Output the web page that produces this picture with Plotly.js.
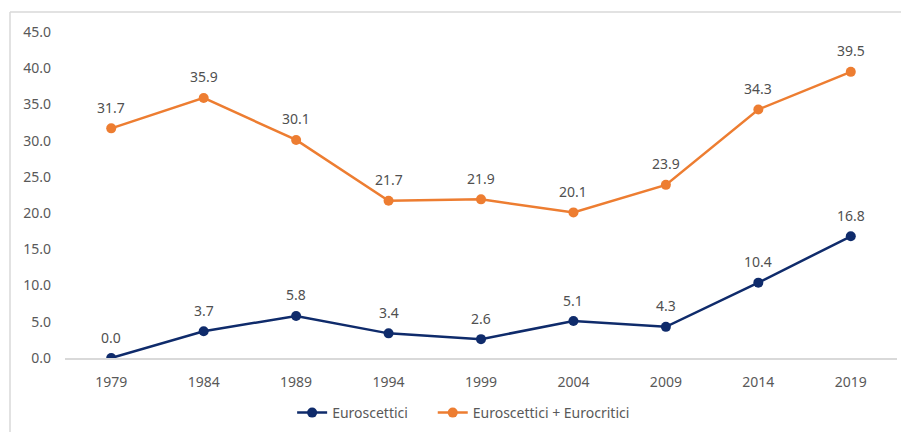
<!DOCTYPE html>
<html>
<head>
<meta charset="utf-8">
<script src="https://cdn.plot.ly/plotly-3.0.1.min.js"></script>
<style>
html,body{margin:0;padding:0;background:#fff;}
#chart{width:901px;height:432px;}
</style>
</head>
<body>
<div id="chart"></div>
<script>
var years = ["1979","1984","1989","1994","1999","2004","2009","2014","2019"];
var euroscettici = [0.0, 3.7, 5.8, 3.4, 2.6, 5.1, 4.3, 10.4, 16.8];
var euroscetticiEurocritici = [31.7, 35.9, 30.1, 21.7, 21.9, 20.1, 23.9, 34.3, 39.5];
var seriesNames = ["Euroscettici", "Euroscettici + Eurocritici"];
var yTicks = [0, 5, 10, 15, 20, 25, 30, 35, 40, 45];

var navy = "#0f2b6b";
var orange = "#ED7D31";
var gray = "#595959";
var fontFam = "Noto Sans";

var traces = [
  {x: years, y: euroscettici, name: seriesNames[0], type: "scatter", mode: "lines+markers",
   legend: "legend",
   line: {color: navy, width: 2.5}, marker: {color: navy, size: 10}},
  {x: years, y: euroscetticiEurocritici, name: seriesNames[1], type: "scatter", mode: "lines+markers",
   legend: "legend2",
   line: {color: orange, width: 2.5}, marker: {color: orange, size: 10}}
];

var annotations = [];
[euroscettici, euroscetticiEurocritici].forEach(function(s){
  s.forEach(function(v, i){
    annotations.push({x: i, y: v, xref: "x", yref: "y", text: v.toFixed(1),
      showarrow: false, yshift: 21, font: {family: fontFam, size: 14, color: "#505050"}});
  });
});

function legendCfg(x) {
  return {orientation: "h", xref: "paper", x: x, xanchor: "left",
          yref: "container", y: 0.044, yanchor: "middle",
          font: {family: fontFam, size: 14, color: gray}};
}

var layout = {
  width: 901, height: 432,
  margin: {l: 65, r: 4, t: 32, b: 74},
  paper_bgcolor: "#fff", plot_bgcolor: "#fff",
  font: {family: fontFam, size: 14, color: gray},
  showlegend: true,
  legend: legendCfg(0.273),
  legend2: legendCfg(0.442),
  xaxis: {type: "category", range: [-0.5, 8.5], showgrid: false, zeroline: false,
          showline: true, linecolor: "#d9d9d9", linewidth: 1.5, ticks: "",
          ticklabelstandoff: 10, tickfont: {family: fontFam, size: 14, color: gray}, fixedrange: true},
  yaxis: {range: [0, 45], tickvals: yTicks, ticktext: yTicks.map(function(v){return v.toFixed(1);}),
          showgrid: false, zeroline: false, showline: false, ticks: "",
          ticklabelstandoff: 13, tickfont: {family: fontFam, size: 14, color: gray}, fixedrange: true},
  annotations: annotations,
  shapes: [
    {type: "line", xref: "paper", yref: "paper", x0: -0.0661, x1: 1.01, y0: 1.0613, y1: 1.0613,
     line: {color: "#d9d9d9", width: 1.5}},
    {type: "line", xref: "paper", yref: "paper", x0: -0.0661, x1: -0.0661, y0: 1.0613, y1: -0.3,
     line: {color: "#d9d9d9", width: 1.5}}
  ]
};

Plotly.newPlot("chart", traces, layout, {displayModeBar: false});
</script>
</body>
</html>
